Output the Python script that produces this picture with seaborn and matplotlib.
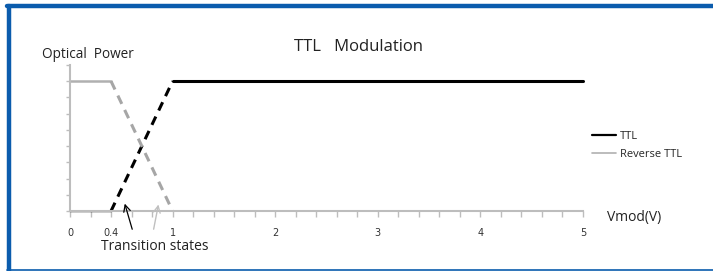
import numpy as np
import pandas as pd
import seaborn as sns
import matplotlib.pyplot as plt
from matplotlib.lines import Line2D

sns.set_theme(style="white")
plt.rcParams['font.family'] = ['Open Sans', 'DejaVu Sans']

# TTL curve: off, transition, on
ttl_v = [0, 0.4, 1, 5]
ttl_p = [0, 0, 8, 8]
# Reverse TTL curve: on, transition, off
rev_v = [0, 0.4, 1]
rev_p = [8, 8, 0]

tick_pos = np.round(np.arange(0, 5.01, 0.2), 1)
labelled = [0, 0.4, 1, 2, 3, 4, 5]
tick_labels = ["0", "0.4", "1", "2", "3", "4", "5"]

axis_grey = "#BDBDBD"
blue = "#0B5CAD"

fig = plt.figure(figsize=(7.13, 2.71), dpi=100)
ax = fig.add_axes([70 / 713, 60 / 271, 513 / 713, 146 / 271])

ttl = pd.DataFrame({"v": ttl_v, "p": ttl_p})
rev = pd.DataFrame({"v": rev_v, "p": rev_p})

# TTL
sns.lineplot(data=ttl.iloc[0:2], x="v", y="p", ax=ax, color="black", lw=1.0, clip_on=False)
sns.lineplot(data=ttl.iloc[1:3], x="v", y="p", ax=ax, color="black", lw=2.2,
             linestyle=(0, (3, 2.2)), clip_on=False)
sns.lineplot(data=ttl.iloc[2:4], x="v", y="p", ax=ax, color="black", lw=2.2, clip_on=False)
# Reverse TTL
sns.lineplot(data=rev.iloc[0:2], x="v", y="p", ax=ax, color="#B0B0B0", lw=1.8, clip_on=False)
sns.lineplot(data=rev.iloc[1:3], x="v", y="p", ax=ax, color="#A6A6A6", lw=2.2,
             linestyle=(0, (3, 2.2)), clip_on=False)

ax.set_xlim(0, 5)
ax.set_ylim(0, 9)
for s in ["top", "right"]:
    ax.spines[s].set_visible(False)
for s in ["left", "bottom"]:
    ax.spines[s].set_color(axis_grey)
    ax.spines[s].set_linewidth(1.5)
ax.set_zorder(1)

labels = [tick_labels[labelled.index(t)] if t in labelled else "" for t in tick_pos]
ax.set_xticks(tick_pos)
ax.set_xticklabels(labels, fontsize=7, family="DejaVu Sans", color="#333333")
ax.set_yticks(range(0, 10))
ax.set_yticklabels([])
ax.tick_params(axis="x", direction="out", length=4, width=1, color=axis_grey, pad=8,
               bottom=True)
ax.tick_params(axis="y", direction="out", length=3, width=1, color=axis_grey, left=True)
ax.set_xlabel("")
ax.set_ylabel("")

# transition arrows
ax.annotate("", xy=(0.526, 0.62), xytext=(0.614, -1.29), annotation_clip=False,
            arrowprops=dict(arrowstyle="->", color="black", lw=0.9))
ax.annotate("", xy=(0.867, 0.57), xytext=(0.81, -1.29), annotation_clip=False,
            arrowprops=dict(arrowstyle="->", color="#C0C0C0", lw=1.0))

fig.text(101 / 713, 1 - 247 / 271, "Transition states", fontsize=10, va="center", ha="left",
         color="#222222")
fig.text(358 / 713, 1 - 47 / 271, "TTL   Modulation", fontsize=12, va="center", ha="center",
         color="#222222")
fig.text(42 / 713, 1 - 55 / 271, "Optical  Power", fontsize=9.8, va="center", ha="left",
         color="#222222")
fig.text(607 / 713, 1 - 218 / 271, "Vmod(V)", fontsize=10, va="center", ha="left",
         color="#222222")

handles = [Line2D([], [], color="black", lw=1.6),
           Line2D([], [], color="#B0B0B0", lw=1.2)]
fig.legend(handles, ["TTL", "Reverse TTL"], loc="upper left",
           bbox_to_anchor=(582 / 713, 1 - 121 / 271), frameon=False, fontsize=8,
           handlelength=2.2, handletextpad=0.3, labelspacing=0.6)

# blue frame
fig.add_artist(Line2D([9 / 713, 9 / 713], [0, 1 - 6 / 271], color=blue, lw=3.2))
fig.add_artist(Line2D([7 / 713, 1], [1 - 6 / 271, 1 - 6 / 271], color=blue, lw=3.2))
fig.add_artist(Line2D([7 / 713, 1], [1 / 271, 1 / 271], color=blue, lw=1.2))

fig.savefig("out.png", dpi=100)
